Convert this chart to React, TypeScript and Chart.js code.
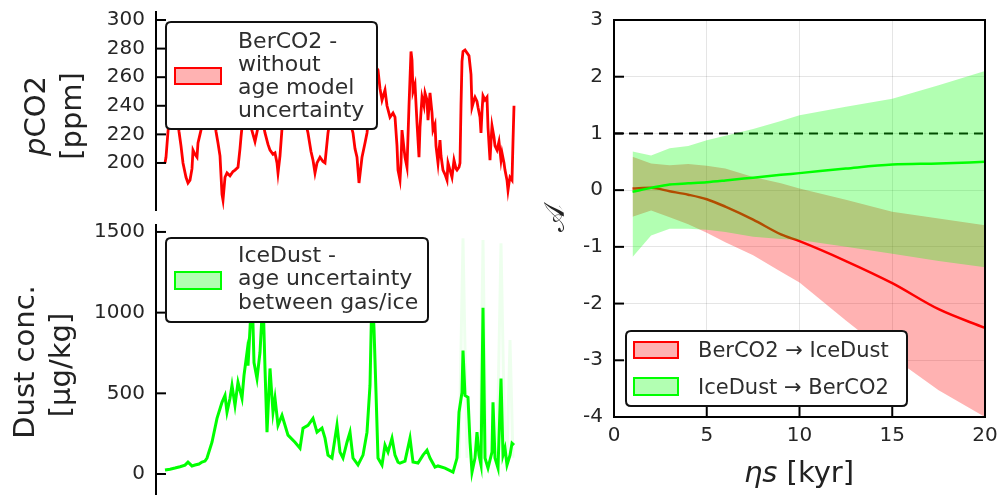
import React, { useEffect, useRef } from "react";
import { Chart, registerables } from "chart.js";

Chart.register(...registerables);

const FAMILY = "'DejaVu Sans', 'Noto Sans', sans-serif";
const TICK_COLOR = "#262626";
const RED = "rgb(255,0,0)";
const GREEN = "rgb(0,255,0)";
const RED_BAND = "rgba(255,0,0,0.3)";
const GREEN_BAND = "rgba(0,255,0,0.3)";

// ---------- Panel 1: BerCO2 (pCO2, ppm) ----------
const co2Age = [
  0, 2, 6, 10, 16, 22, 28, 32, 36, 42,
  46, 50, 54, 56, 60, 64, 66, 70, 74, 80,
  86, 92, 98, 102, 106, 110, 114, 116, 120, 124,
  130, 136, 140, 146, 150, 152, 156, 162, 168, 172,
  176, 180, 186, 192, 196, 200, 206, 210, 216, 220,
  224, 226, 230, 234, 240, 250, 260, 270, 280, 286,
  292, 296, 300, 304, 310, 316, 320, 326, 334, 344,
  354, 364, 372, 376, 380, 384, 388, 392, 394, 400,
  404, 410, 416, 420, 424, 426, 430, 434, 440, 444,
  450, 456, 460, 464, 466, 470, 472, 474, 478, 480,
  484, 488, 492, 494, 496, 500, 504, 508, 510, 514,
  518, 520, 524, 526, 530, 534, 536, 540, 542, 546,
  550, 552, 556, 560, 564, 566, 570, 574, 578, 582,
  584, 588, 590, 592, 594, 596, 600, 604, 608, 612,
  614, 618, 620, 624, 626, 630, 632, 634, 636, 640,
  644, 646, 650, 652, 654, 658, 660, 664, 668, 672,
  674, 678, 680, 684, 686, 688, 690, 694, 696, 698,
];
const co2Ppm = [
  200, 204, 222, 236, 248, 240, 222, 212, 200, 190,
  186, 188, 196, 209, 206, 204, 214, 220, 226, 242,
  255, 250, 235, 222, 214, 205, 178, 174, 190, 193,
  191, 194, 195, 197, 210, 218, 232, 250, 236, 225,
  220, 215, 225, 238, 228, 221, 213, 209, 206, 207,
  200, 193, 205, 224, 245, 257, 250, 241, 230, 221,
  208, 202, 193, 200, 204, 201, 200, 221, 240, 256,
  263, 246, 226, 221, 210, 204, 186, 198, 204, 214,
  221, 240, 258, 262, 266, 265, 252, 244, 251, 240,
  232, 235, 232, 212, 195, 188, 200, 223, 210, 204,
  197, 240, 278, 272, 250, 255, 228, 204, 225, 246,
  240, 249, 244, 230, 249, 235, 223, 227, 212, 200,
  216, 205, 195, 192, 188, 200, 195, 190, 202, 196,
  195, 197, 200, 240, 271, 278, 279, 277, 275, 262,
  239, 244, 246, 243, 239, 232, 221, 236, 247, 244,
  246, 225, 202, 215, 226, 218, 212, 209, 215, 202,
  207, 200, 195, 188, 181, 186, 190, 188, 215, 240,
];
const co2TickValues = [200, 220, 240, 260, 280, 300];

// ---------- Panel 2: IceDust (ug/kg) ----------
const dustAge = [
  0, 10, 20, 30, 40, 46, 54, 60, 68, 74,
  80, 84, 94, 104, 114, 120, 124, 130, 134, 140,
  146, 154, 158, 164, 166, 170, 174, 178, 184, 190,
  196, 200, 204, 210, 216, 220, 226, 234, 246, 260,
  270, 276, 286, 296, 304, 314, 320, 326, 334, 344,
  350, 356, 364, 370, 376, 386, 396, 404, 410, 414,
  418, 422, 426, 434, 440, 446, 454, 460, 466, 470,
  480, 490, 496, 506, 516, 524, 530, 540, 546, 560,
  576, 584, 588, 594, 596, 600, 606, 610, 614, 620,
  624, 628, 632, 636, 640, 646, 654, 656, 660, 666,
  672, 676, 680, 684, 690, 694, 698,
];
const dustConc = [
  25, 30, 37, 45, 55, 74, 50, 56, 62, 74,
  80, 99, 197, 345, 444, 487, 383, 469, 549, 426,
  568, 469, 611, 753, 672, 900, 1150, 691, 592, 753,
  1100, 654, 259, 654, 383, 469, 302, 364, 241, 197,
  160, 284, 302, 345, 259, 284, 222, 117, 99, 302,
  136, 99, 197, 259, 99, 56, 117, 259, 549, 1150,
  900, 506, 99, 56, 179, 136, 222, 117, 74, 68,
  80, 222, 74, 68, 117, 148, 99, 43, 50, 37,
  12, 99, 383, 506, 765, 487, 475, 197, 12, 99,
  259, 117, 56, 1030, 99, 37, 136, 444, 99, 37,
  592, 117, 160, 56, 117, 191, 179,
];
const dustEnvAge = [588, 596, 604, 605, 630, 636, 642, 643, 664, 672, 680, 681, 684, 690, 696];
const dustEnvHigh = [100, 1460, 100, null, 100, 1450, 100, null, 100, 1430, 100, null, 100, 830, 100];
const dustTickValues = [0, 500, 1000, 1500];

// ---------- Panel 3: A vs eta*s ----------
const etaS = [1, 2, 3, 4, 5, 6, 7.5, 9, 10, 12.5, 15, 17.5, 20];
const berToIceMean = [0.03, 0.04, -0.02, -0.08, -0.16, -0.29, -0.52, -0.78, -0.9, -1.25, -1.64, -2.1, -2.43];
const berToIceHigh = [0.59, 0.47, 0.44, 0.46, 0.43, 0.38, 0.23, 0.12, 0.03, -0.17, -0.38, -0.5, -0.62];
const berToIceLow = [-0.47, -0.36, -0.48, -0.6, -0.75, -0.92, -1.15, -1.44, -1.63, -2.3, -2.94, -3.53, -4.0];
const iceToBerMean = [-0.03, 0.04, 0.1, 0.12, 0.14, 0.17, 0.22, 0.27, 0.3, 0.38, 0.45, 0.47, 0.5];
const iceToBerHigh = [0.68, 0.61, 0.74, 0.78, 0.88, 0.96, 1.08, 1.22, 1.32, 1.47, 1.61, 1.85, 2.1];
const iceToBerLow = [-1.18, -0.8, -0.68, -0.68, -0.7, -0.74, -0.82, -0.86, -0.88, -1.0, -1.12, -1.25, -1.36];
const refX = [0, 20];
const refY = [1, 1];

const legendLabels1 = ["BerCO2 -", "without", "age model", "uncertainty"];
const legendLabels2 = ["IceDust -", "age uncertainty", "between gas/ice"];
const legendLabels3 = ["BerCO2 \u2192 IceDust", "IceDust \u2192 BerCO2"];

// ---------- helpers ----------
const pts = (xs: number[], ys: (number | null)[]) => xs.map((x, i) => ({ x, y: ys[i] }));

type Run = { t: string; italic?: boolean };
type TextItem = { x: number; y: number; rot?: number; size: number; runs: Run[]; baseline?: CanvasTextBaseline; color?: string };
type LegendItem = { fill: string; stroke: string; px: number; py: number; pw: number; ph: number; tx: number; lines: [string, number][] };
type LegendBox = { x: number; y: number; w: number; h: number; size: number; items: LegendItem[] };
type Decor = { ticks?: { axis: "x" | "y"; len: number }[]; frame?: boolean; texts?: TextItem[]; legends?: LegendBox[] };

function drawRuns(ctx: CanvasRenderingContext2D, item: TextItem) {
  ctx.save();
  ctx.translate(item.x, item.y);
  if (item.rot) ctx.rotate(item.rot);
  ctx.fillStyle = item.color || "#222222";
  ctx.textBaseline = item.baseline || "alphabetic";
  ctx.textAlign = "left";
  const fonts = item.runs.map((r) => `${r.italic ? "italic " : ""}${item.size}px ${FAMILY}`);
  const widths = item.runs.map((r, i) => {
    ctx.font = fonts[i];
    return ctx.measureText(r.t).width;
  });
  const total = widths.reduce((a, b) => a + b, 0);
  let x = -total / 2;
  item.runs.forEach((r, i) => {
    ctx.font = fonts[i];
    ctx.fillText(r.t, x, 0);
    x += widths[i];
  });
  ctx.restore();
}

function roundRect(ctx: CanvasRenderingContext2D, x: number, y: number, w: number, h: number, r: number) {
  ctx.beginPath();
  ctx.moveTo(x + r, y);
  ctx.lineTo(x + w - r, y);
  ctx.quadraticCurveTo(x + w, y, x + w, y + r);
  ctx.lineTo(x + w, y + h - r);
  ctx.quadraticCurveTo(x + w, y + h, x + w - r, y + h);
  ctx.lineTo(x + r, y + h);
  ctx.quadraticCurveTo(x, y + h, x, y + h - r);
  ctx.lineTo(x, y + r);
  ctx.quadraticCurveTo(x, y, x + r, y);
  ctx.closePath();
}

function makeDecor(cfg: Decor) {
  return {
    id: "decor",
    afterDatasetsDraw(chart: any) {
      const ctx: CanvasRenderingContext2D = chart.ctx;
      const a = chart.chartArea;
      ctx.save();
      ctx.strokeStyle = "#000";
      ctx.lineWidth = 2;
      (cfg.ticks || []).forEach((t) => {
        const scale = chart.scales[t.axis];
        scale.ticks.forEach((tk: any) => {
          const p = scale.getPixelForValue(tk.value);
          ctx.beginPath();
          if (t.axis === "y") {
            ctx.moveTo(a.left, p);
            ctx.lineTo(a.left + t.len, p);
          } else {
            ctx.moveTo(p, a.bottom);
            ctx.lineTo(p, a.bottom - t.len);
          }
          ctx.stroke();
        });
      });
      if (cfg.frame) {
        ctx.strokeRect(a.left, a.top, a.right - a.left, a.bottom - a.top);
      }
      ctx.restore();
    },
    afterDraw(chart: any) {
      const ctx: CanvasRenderingContext2D = chart.ctx;
      (cfg.texts || []).forEach((t) => drawRuns(ctx, t));
      (cfg.legends || []).forEach((lg) => {
        ctx.save();
        roundRect(ctx, lg.x, lg.y, lg.w, lg.h, 5);
        ctx.fillStyle = "#ffffff";
        ctx.fill();
        ctx.lineWidth = 2;
        ctx.strokeStyle = "#111111";
        ctx.stroke();
        lg.items.forEach((it) => {
          ctx.fillStyle = "#ffffff";
          ctx.fillRect(it.px, it.py, it.pw, it.ph);
          ctx.fillStyle = it.fill;
          ctx.fillRect(it.px, it.py, it.pw, it.ph);
          ctx.strokeStyle = it.stroke;
          ctx.lineWidth = 2;
          ctx.strokeRect(it.px, it.py, it.pw, it.ph);
          ctx.fillStyle = "#2e2e2e";
          ctx.font = `${lg.size}px ${FAMILY}`;
          ctx.textAlign = "left";
          ctx.textBaseline = "alphabetic";
          it.lines.forEach(([s, y]) => ctx.fillText(s, it.tx, y));
        });
        ctx.restore();
      });
    },
  };
}

const tickFont = { family: FAMILY, size: 20 };
const plainTick = (v: any) => String(v);

function leftYScale(min: number, max: number, values: number[]) {
  return {
    type: "linear",
    position: "left",
    min,
    max,
    afterBuildTicks: (s: any) => {
      s.ticks = values.map((v) => ({ value: v }));
    },
    afterFit: (s: any) => {
      s.width = 156;
      s.paddingTop = 0;
      s.paddingBottom = 0;
    },
    grid: { display: false, drawTicks: false },
    border: { display: true, color: "#000000", width: 2 },
    ticks: { padding: 11, color: TICK_COLOR, font: tickFont, callback: plainTick },
  };
}

const baseOptions = {
  responsive: false,
  animation: false,
  devicePixelRatio: 1,
  events: [],
};

function configCO2(): any {
  return {
    type: "line",
    data: {
      datasets: [
        {
          data: pts(co2Age, co2Ppm),
          borderColor: RED,
          borderWidth: 2.8,
          pointRadius: 0,
          tension: 0,
          fill: false,
        },
      ],
    },
    options: {
      ...baseOptions,
      layout: { padding: { left: 0, top: 12, right: 483, bottom: 285 } },
      plugins: { legend: { display: false }, tooltip: { enabled: false } },
      scales: {
        x: { type: "linear", min: -18, max: 702, display: false },
        y: leftYScale(167.1, 305.6, co2TickValues),
      },
    },
    plugins: [
      makeDecor({
        ticks: [{ axis: "y", len: 10 }],
        texts: [
          { x: 45, y: 116, rot: -Math.PI / 2, size: 29, runs: [{ t: "p", italic: true }, { t: "CO2" }] },
          { x: 81, y: 116, rot: -Math.PI / 2, size: 29, runs: [{ t: "[ppm]" }] },
        ],
        legends: [
          {
            x: 166, y: 22, w: 211, h: 107, size: 22,
            items: [
              {
                fill: RED_BAND, stroke: RED, px: 175, py: 68, pw: 46, ph: 16, tx: 238,
                lines: [[legendLabels1[0], 48], [legendLabels1[1], 71], [legendLabels1[2], 94], [legendLabels1[3], 117]],
              },
            ],
          },
        ],
      }),
    ],
  };
}

function configDust(): any {
  return {
    type: "line",
    data: {
      datasets: [
        {
          data: pts(dustAge, dustConc),
          borderColor: GREEN,
          borderWidth: 3,
          pointRadius: 0,
          tension: 0,
          fill: false,
        },
        {
          data: pts(dustEnvAge, dustEnvHigh),
          borderColor: "rgba(0,255,0,0.07)",
          borderWidth: 3,
          pointRadius: 0,
          tension: 0,
          spanGaps: false,
          fill: false,
        },
      ],
    },
    options: {
      ...baseOptions,
      layout: { padding: { left: 0, top: 225, right: 483, bottom: 0 } },
      plugins: { legend: { display: false }, tooltip: { enabled: false } },
      scales: {
        x: { type: "linear", min: -18, max: 702, display: false },
        y: leftYScale(-130, 1543, dustTickValues),
      },
    },
    plugins: [
      makeDecor({
        ticks: [{ axis: "y", len: 10 }],
        texts: [
          { x: 34, y: 362, rot: -Math.PI / 2, size: 29, runs: [{ t: "Dust conc." }] },
          { x: 70, y: 365, rot: -Math.PI / 2, size: 29, runs: [{ t: "[\u00b5g/kg]" }] },
        ],
        legends: [
          {
            x: 166, y: 238, w: 262, h: 84, size: 22,
            items: [
              {
                fill: GREEN_BAND, stroke: GREEN, px: 175, py: 272, pw: 46, ph: 17, tx: 238,
                lines: [[legendLabels2[0], 262], [legendLabels2[1], 285], [legendLabels2[2], 309]],
              },
            ],
          },
        ],
      }),
    ],
  };
}

function configA(): any {
  const line = (ys: number[], color: string) => ({
    data: pts(etaS, ys),
    borderColor: color,
    borderWidth: 2.5,
    pointRadius: 0,
    cubicInterpolationMode: "monotone",
    fill: false,
  });
  const edge = (ys: number[], fill: any, bg: string) => ({
    data: pts(etaS, ys),
    borderWidth: 0,
    borderColor: "rgba(0,0,0,0)",
    backgroundColor: bg,
    pointRadius: 0,
    tension: 0,
    fill,
  });
  return {
    type: "line",
    data: {
      datasets: [
        line(iceToBerMean, GREEN), // 0
        edge(iceToBerHigh, 2, GREEN_BAND), // 1
        edge(iceToBerLow, false, GREEN_BAND), // 2
        line(berToIceMean, RED), // 3
        edge(berToIceHigh, 5, RED_BAND), // 4
        edge(berToIceLow, false, RED_BAND), // 5
        {
          data: pts(refX, refY),
          borderColor: "#000000",
          borderWidth: 2,
          borderDash: [9, 6],
          pointRadius: 0,
          fill: false,
        },
      ],
    },
    options: {
      ...baseOptions,
      layout: { padding: { left: 560, top: 20, right: 14, bottom: 11 } },
      plugins: { legend: { display: false }, tooltip: { enabled: false } },
      scales: {
        x: {
          type: "linear",
          min: 0,
          max: 20,
          ticks: { stepSize: 5, padding: 7, color: TICK_COLOR, font: tickFont, callback: plainTick },
          grid: { color: "rgba(0,0,0,0.1)", lineWidth: 1, drawTicks: false },
          border: { display: false },
          afterFit: (s: any) => {
            s.height = 67;
            s.paddingLeft = 0;
            s.paddingRight = 0;
          },
        },
        y: {
          type: "linear",
          min: -4,
          max: 3,
          ticks: { stepSize: 1, padding: 11, color: TICK_COLOR, font: tickFont, callback: plainTick },
          grid: { color: "rgba(0,0,0,0.1)", lineWidth: 1, drawTicks: false },
          border: { display: false },
          afterFit: (s: any) => {
            s.width = 54;
            s.paddingTop = 0;
            s.paddingBottom = 0;
          },
        },
      },
    },
    plugins: [
      makeDecor({
        ticks: [
          { axis: "y", len: 10 },
          { axis: "x", len: 10 },
        ],
        frame: true,
        texts: [
          { x: 799, y: 482, size: 29, runs: [{ t: "\u03b7s", italic: true }, { t: " [kyr]" }] },
          { x: 564, y: 218, rot: -Math.PI / 2, size: 29, runs: [{ t: "\ud835\udc9c" }] },
        ],
        legends: [
          {
            x: 626, y: 331, w: 281, h: 75, size: 21,
            items: [
              { fill: RED_BAND, stroke: RED, px: 634, py: 342, pw: 44, ph: 16, tx: 698, lines: [[legendLabels3[0], 357]] },
              { fill: GREEN_BAND, stroke: GREEN, px: 634, py: 378, pw: 44, ph: 17, tx: 698, lines: [[legendLabels3[1], 394]] },
            ],
          },
        ],
      }),
    ],
  };
}

export default function App() {
  const r1 = useRef<HTMLCanvasElement>(null);
  const r2 = useRef<HTMLCanvasElement>(null);
  const r3 = useRef<HTMLCanvasElement>(null);

  useEffect(() => {
    const charts = [
      new Chart(r1.current as HTMLCanvasElement, configCO2()),
      new Chart(r2.current as HTMLCanvasElement, configDust()),
      new Chart(r3.current as HTMLCanvasElement, configA()),
    ];
    return () => charts.forEach((c) => c.destroy());
  }, []);

  const cs: React.CSSProperties = { position: "absolute", left: 0, top: 0, width: 999, height: 495 };
  return (
    <div style={{ position: "fixed", left: 0, top: 0, width: 999, height: 495, background: "#ffffff", overflow: "hidden" }}>
      <canvas ref={r1} width={999} height={495} style={cs} />
      <canvas ref={r2} width={999} height={495} style={cs} />
      <canvas ref={r3} width={999} height={495} style={cs} />
    </div>
  );
}
